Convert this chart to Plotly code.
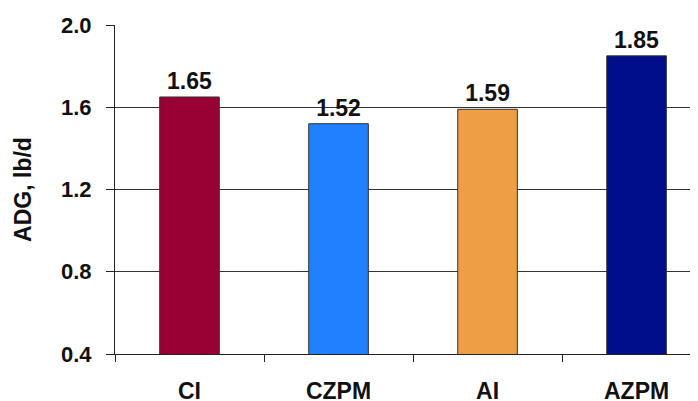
import plotly.graph_objects as go

categories = ["CI", "CZPM", "AI", "AZPM"]
adg = [1.65, 1.52, 1.59, 1.85]
colors = ["#990033", "#2080FF", "#EE9E44", "#000E8C"]
yticks = [0.4, 0.8, 1.2, 1.6, 2.0]
ytick_labels = ["0.4", "0.8", "1.2", "1.6", "2.0"]

FONT = "Liberation Sans, Arial, sans-serif"

def bfont(size):
    return dict(family=FONT, size=size, color="#111111", weight="bold")

fig = go.Figure()
fig.add_trace(go.Bar(
    x=categories, y=adg,
    marker=dict(color=colors, line=dict(color="#333333", width=1)),
    width=0.4,
    text=[f"{v:.2f}" for v in adg],
    textposition="outside",
    textfont=bfont(23),
    cliponaxis=False,
))

# page body has an 8px margin, so offsets compensate for it
fig.update_layout(
    width=698, height=401,
    margin=dict(l=107, r=0, t=17, b=55, autoexpand=False),
    paper_bgcolor="white", plot_bgcolor="white",
    showlegend=False,
    font=dict(family=FONT, color="#111111"),
)
fig.update_xaxes(
    type="category",
    range=[-0.5, 3.466],
    tickson="boundaries",
    ticks="outside", ticklen=7, tickcolor="#222222", tickwidth=1,
    showline=True, linecolor="#222222", linewidth=1,
    showgrid=False,
    tickfont=bfont(23),
    ticklabelstandoff=16,
    automargin=False,
)
fig.update_yaxes(
    range=[0.4, 2.0],
    tickvals=yticks, ticktext=ytick_labels,
    ticks="outside", ticklen=8, tickcolor="#222222", tickwidth=1,
    showline=True, linecolor="#222222", linewidth=1,
    showgrid=True, gridcolor="#333333", gridwidth=1,
    zeroline=False,
    tickfont=bfont(22),
    ticklabelstandoff=10,
    automargin=False,
    title=dict(text="ADG, lb/d", font=bfont(23), standoff=22),
)

fig.write_html("out.html")
